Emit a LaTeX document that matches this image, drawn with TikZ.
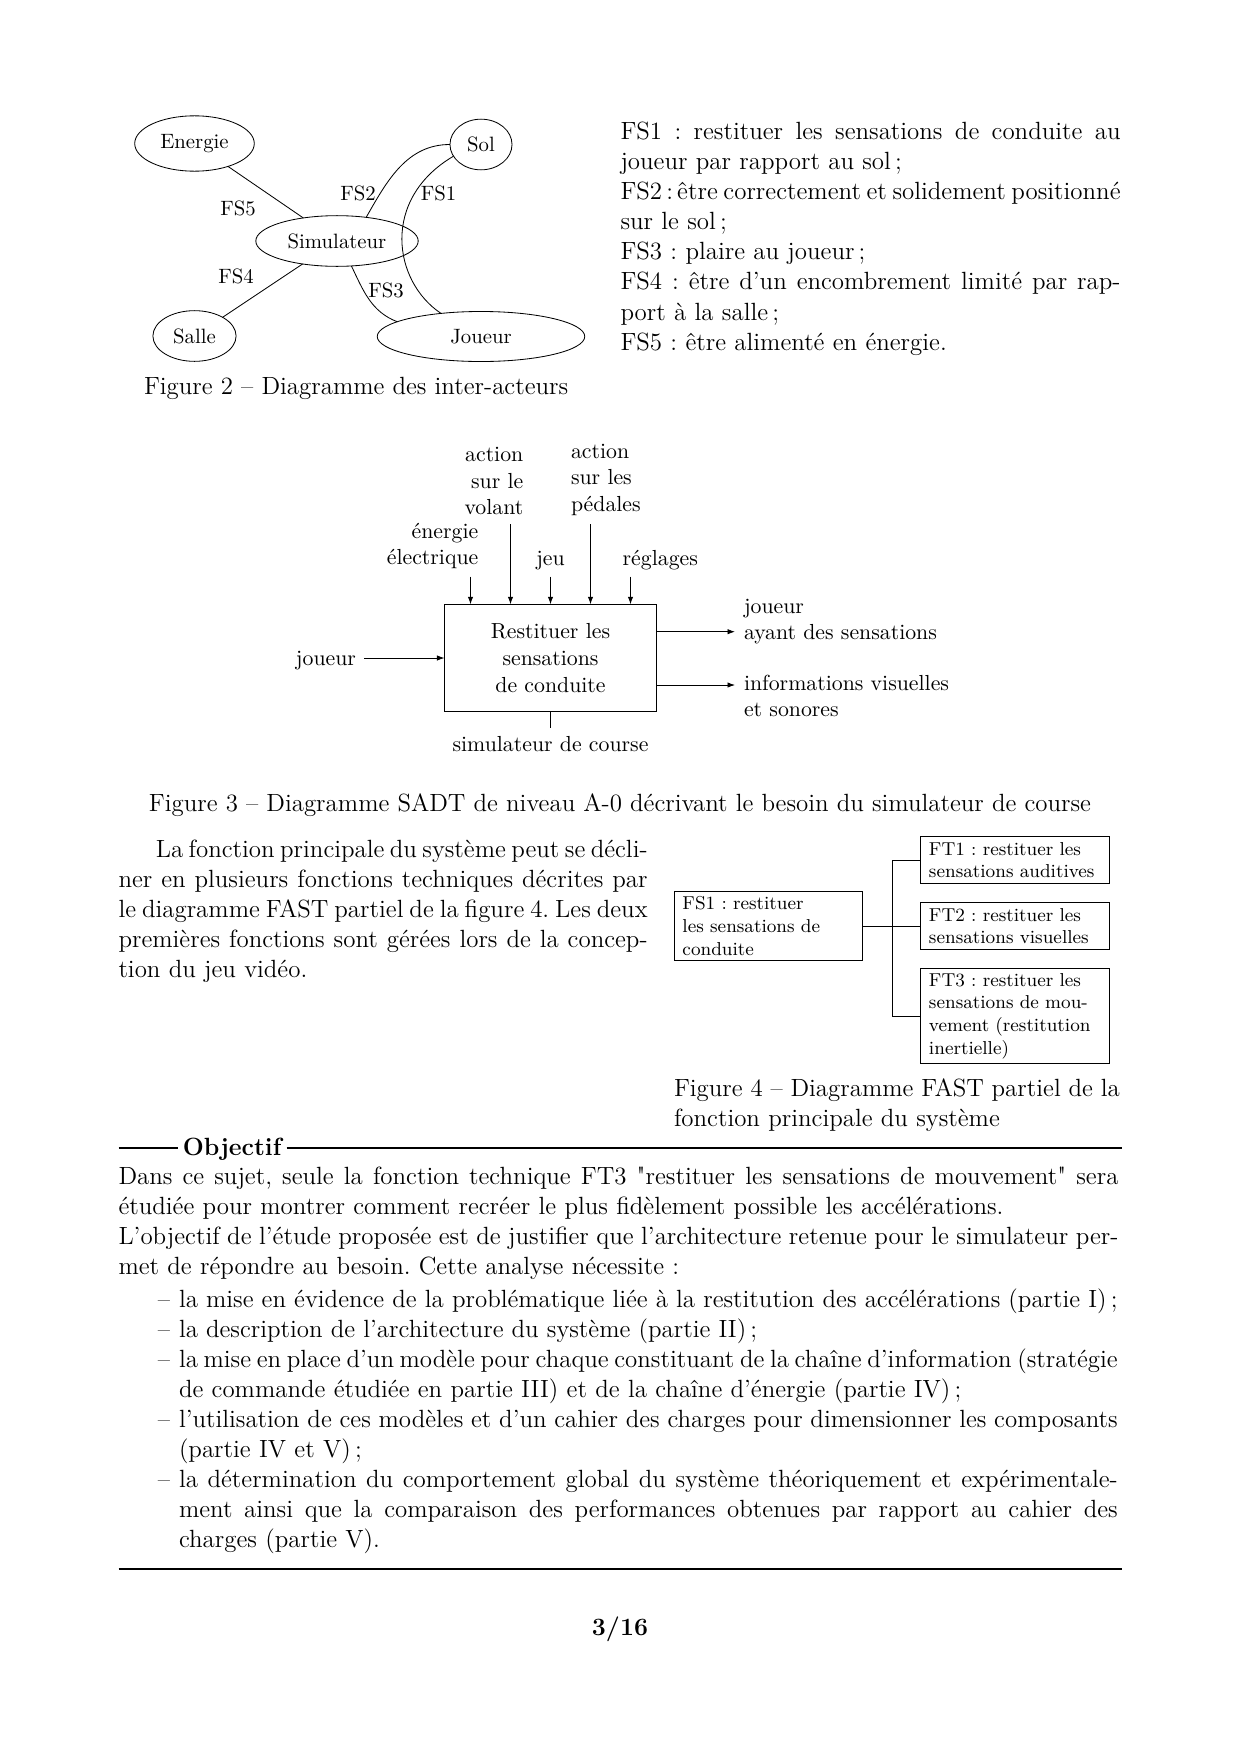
\documentclass[tikz,border=0pt]{standalone}
\usetikzlibrary{shapes.geometric,arrows.meta}
\newcommand\Jl[2]{{\spaceskip=0pt\xspaceskip=0pt\makebox[#1][s]{#2}}}
\font\qf="[lmroman12-regular]" at 12pt
\newcommand\sq{{\qf\char34}}
\begin{document}
\begin{tikzpicture}[x=0.0169333cm,y=-0.0169333cm,
  every node/.style={inner sep=0pt,outer sep=0pt},
  body/.style={font=\fontsize{12}{14.5}\selectfont\frenchspacing},
  bodybf/.style={font=\fontsize{12}{14.5}\selectfont\bfseries\frenchspacing},
  actor/.style={ellipse,draw,inner xsep=3.9pt,inner ysep=5pt,font=\fontsize{10}{12}\selectfont},
  fslab/.style={font=\fontsize{10}{12}\selectfont},
  sadt/.style={font=\fontsize{10.5}{12.8}\selectfont\frenchspacing},
  fastbox/.style={draw,rectangle,align=left,inner xsep=4pt,inner ysep=1pt,
     text width=82.9pt,font=\fontsize{9}{10.9}\selectfont\frenchspacing},
  flow/.style={-{Latex[length=3.6pt,width=2.6pt]}},
  rulestyle/.style={line width=0.8pt},
]
\fill[white] (0,0) rectangle (1240,1754);
\useasboundingbox (0,0) rectangle (1240,1754);

% ---------- Figure 2 : inter-acteurs ----------
\node[actor] (energie) at (194.5,143.5) {Energie};
\node[actor] (sol) at (481,144.5) {Sol};
\node[actor] (simu) at (337,241) {Simulateur};
\node[actor] (salle) at (194.5,336) {Salle};
\node[actor,minimum width=100pt] (joueurA) at (481,336.5) {Joueur};

\draw (energie) -- (simu);
\draw (salle) -- (simu);
\draw (simu.39) .. controls +(21,-37) and +(-43,0) .. (sol.west);
\draw (sol.203) .. controls +(-73,43) and +(-48,-32) .. (joueurA.150);
\draw (simu.-60) .. controls +(12,25) and +(-26,-10) .. (joueurA.170);

\node[fslab] (lfs5) at (238,208) {FS5};
\node[fslab] (lfs4) at (236,276.5) {FS4};
\node[fslab] (lfs2) at (358,193.5) {FS2};
\node[fslab] (lfs1) at (438.5,193.5) {FS1};
\node[fslab] (lfs3) at (386,290) {FS3};

\node[body,anchor=base west] (cap2) at (144,394) {Figure 2 -- Diagramme des inter-acteurs};

\node[body,anchor=base west,text width=241pt,align=left] (fstext) at (620.5,139.5) {%
\Jl{241pt}{FS1 : restituer les sensations de conduite au}\\
joueur par rapport au sol\,;\\
\Jl{241pt}{FS2\,:\,être correctement et solidement positionné}\\
sur le sol\,;\\
FS3 : plaire au joueur\,;\\
\Jl{241pt}{FS4 : être d'un encombrement limité par rap-}\\
port à la salle\,;\\
FS5 : être alimenté en énergie.};

% ---------- Figure 3 : SADT ----------
\node[draw,sadt,minimum width=102.2pt,minimum height=51.8pt,text width=98pt,align=center]
  (sadtbox) at (550.5,658) {Restituer les\\sensations\\de conduite};

\node[sadt,anchor=base east,text width=60pt,align=right] (lEn) at (478.3,538.3) {énergie\\électrique};
\node[sadt,anchor=base east,text width=40pt,align=right] (lVol) at (523.3,461.7) {action\\sur le\\volant};
\node[sadt,anchor=base west,text width=45pt,align=left] (lPed) at (571,458.3) {action\\sur les\\pédales};
\node[sadt,anchor=base] (lJeu) at (550.5,565) {jeu};
\node[sadt,anchor=base west] (lReg) at (622.7,565) {réglages};
\node[sadt,anchor=base east] (lJin) at (356,665) {joueur};
\node[sadt,anchor=base west,text width=120pt,align=left] (lOut1) at (744,613.3) {joueur\\ayant des sensations};
\node[sadt,anchor=base west,text width=120pt,align=left] (lOut2) at (744,690) {informations visuelles\\et sonores};
\node[sadt,anchor=base] (lSim) at (550.5,751.7) {simulateur de course};

\coordinate (cEn) at (470.5,576.7);
\coordinate (cVol) at (510.5,524);
\coordinate (cJeu) at (550.5,576.7);
\coordinate (cPed) at (590.5,524);
\coordinate (cReg) at (630.5,576.7);
\foreach \c in {cEn,cVol,cJeu,cPed,cReg} \draw[flow] (\c) -- (\c |- sadtbox.north);
\coordinate (cJin) at (364,658);
\draw[flow] (cJin) -- (cJin -| sadtbox.west);
\coordinate (cO1) at (735,631.7);
\coordinate (cO2) at (735,685);
\draw[flow] (cO1 -| sadtbox.east) -- (cO1);
\draw[flow] (cO2 -| sadtbox.east) -- (cO2);
\coordinate (cSim) at (550.5,728.3);
\draw (sadtbox.south) -- (cSim);

\node[body,anchor=base] (cap3) at (620,811) {Figure 3 -- Diagramme SADT de niveau A-0 décrivant le besoin du simulateur de course};

% ---------- Paragraph ----------
\node[body,anchor=base west,text width=255pt,align=left] (para) at (118.5,857) {%
\Jl{255pt}{\hspace*{18pt}La fonction principale du système peut se décli-}\\
\Jl{255pt}{ner en plusieurs fonctions techniques décrites par}\\
\Jl{255pt}{le diagramme FAST partiel de la figure 4. Les deux}\\
\Jl{255pt}{premières fonctions sont gérées lors de la concep-}\\
tion du jeu vidéo.};

% ---------- Figure 4 : FAST ----------
\node[fastbox,minimum height=33.1pt] (fs1) at (768.5,926) {FS1 : restituer\\\mbox{les sensations de}\\conduite};
\node[fastbox,minimum height=23pt] (ft1) at (1015,860) {FT1 : restituer les\\\mbox{sensations auditives}};
\node[fastbox,minimum height=23pt] (ft2) at (1015,926) {FT2 : restituer les\\\mbox{sensations visuelles}};
\node[fastbox,minimum height=46pt] (ft3) at (1015,1016) {FT3 : restituer les\\\mbox{sensations de mou-}\\\mbox{vement (restitution}\\inertielle)};
\coordinate (jn) at (892,926);
\draw (fs1.east) -- (ft2.west);
\draw (ft1.west) -| (jn) |- (ft3.west);

\node[body,anchor=base west,text width=214.8pt,align=left] (cap4) at (674,1096) {%
\Jl{214.8pt}{Figure 4 -- Diagramme FAST partiel de la}\\
fonction principale du système};

% ---------- Objectif ----------
\coordinate (oL) at (118.5,1148.3);
\coordinate (oR) at (1121.5,1148.3);
\node[bodybf,anchor=base west,inner xsep=2.6pt] (objt) at (177.5,1155) {Objectif};
\draw[rulestyle] (oL) -- (oL -| objt.west);
\draw[rulestyle] (oR -| objt.east) -- (oR);

\node[body,anchor=base west,text width=481.9pt,align=left] (obj1) at (118.5,1184.3) {%
\Jl{481.9pt}{Dans ce sujet, seule la fonction technique FT3 \sq restituer les sensations de mouvement\sq{} sera}\\
étudiée pour montrer comment recréer le plus fidèlement possible les accélérations.\\
\Jl{481.9pt}{L'objectif de l'étude proposée est de justifier que l'architecture retenue pour le simulateur per-}\\
met de répondre au besoin. Cette analyse nécessite :};

\node[body,anchor=base east] (d1) at (170,1307.4) {--};
\node[body,anchor=base west] (it1) at (179,1307.4) {la mise en évidence de la problématique liée à la restitution des accélérations (partie I)\,;};
\node[body,anchor=base east] (d2) at (170,1337.5) {--};
\node[body,anchor=base west] (it2) at (179,1337.5) {la description de l'architecture du système (partie II)\,;};
\node[body,anchor=base east] (d3) at (170,1367.5) {--};
\node[body,anchor=base west,text width=452.4pt,align=left] (it3) at (179,1367.5) {%
\Jl{452.4pt}{la mise en place d'un modèle pour chaque constituant de la chaîne d'information (stratégie}\\
de commande étudiée en partie III) et de la chaîne d'énergie (partie IV)\,;};
\node[body,anchor=base east] (d4) at (170,1427.6) {--};
\node[body,anchor=base west,text width=452.4pt,align=left] (it4) at (179,1427.6) {%
\Jl{452.4pt}{l'utilisation de ces modèles et d'un cahier des charges pour dimensionner les composants}\\
(partie IV et V)\,;};
\node[body,anchor=base east] (d5) at (170,1487.7) {--};
\node[body,anchor=base west,text width=452.4pt,align=left] (it5) at (179,1487.7) {%
\Jl{452.4pt}{la détermination du comportement global du système théoriquement et expérimentale-}\\
\Jl{452.4pt}{ment ainsi que la comparaison des performances obtenues par rapport au cahier des}\\
charges (partie V).};

\coordinate (bL) at (118.5,1568.7);
\coordinate (bR) at (1121.5,1568.7);
\draw[rulestyle] (bL) -- (bR);

\node[bodybf,anchor=base] (pnum) at (620,1635) {3/16};
\end{tikzpicture}
\end{document}
